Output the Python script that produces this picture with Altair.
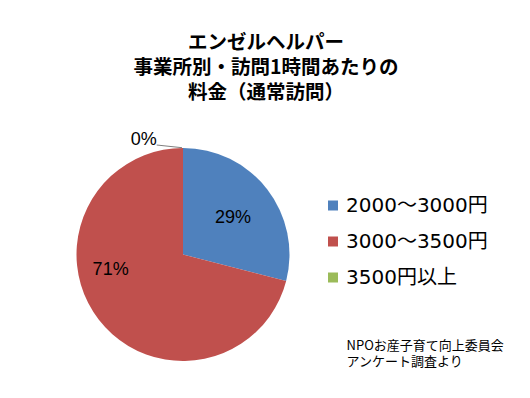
import altair as alt
import pandas as pd

categories = ["2000～3000円", "3000～3500円", "3500円以上"]
shares = [29, 71, 0]
colors = ["#4F81BD", "#C0504D", "#9BBB59"]
title_lines = ["エンゼルヘルパー", "事業所別・訪問1時間あたりの", "料金（通常訪問）"]
note_lines = ["NPOお産子育て向上委員会", "アンケート調査より"]

df = pd.DataFrame({"cat": categories, "value": shares, "idx": list(range(len(categories)))})

CX, CY, R = 175, 246.5, 106.5
JP = "Noto Sans CJK JP"

base = alt.Chart(df).transform_calculate(label="datum.value + '%'")

pie = base.mark_arc(outerRadius=R).encode(
    theta=alt.Theta("value:Q", stack=True),
    order=alt.Order("idx:Q"),
    color=alt.Color(
        "cat:N",
        scale=alt.Scale(domain=categories, range=colors),
        sort=categories,
        legend=alt.Legend(
            title=None, orient="none", legendX=315, legendY=187.5,
            symbolType="square", symbolSize=100, symbolStrokeWidth=0,
            labelFont="DejaVu Sans, Noto Sans CJK JP", labelFontSize=20,
            labelColor="#000000", labelOffset=3, rowPadding=16, padding=0,
            symbolOffset=0,
        ),
    ),
    x=alt.value(CX),
    y=alt.value(CY),
)


def label_layer(cat, radius, offset):
    return base.mark_text(
        radius=radius, thetaOffset=offset, font="Liberation Sans", fontSize=18,
        color="#000000", align="center", baseline="middle",
    ).encode(
        theta=alt.Theta("value:Q", stack=True),
        order=alt.Order("idx:Q"),
        detail="cat:N",
        text=alt.condition(f"datum.cat == '{cat}'", alt.Text("label:N"), alt.value("")),
        x=alt.value(CX),
        y=alt.value(CY),
    )


lab_blue = label_layer(categories[0], 62, 0.03)
lab_red = label_layer(categories[1], 74, 0.449)
lab_green = label_layer(categories[2], 121, -0.331)

leader = alt.Chart(df).mark_rule(color="#7f7f7f", strokeWidth=1).encode(
    x=alt.value(148.7), y=alt.value(137), x2=alt.value(174), y2=alt.value(139.7)
).transform_filter("datum.idx == 0")

title = alt.Chart(df).mark_text(
    font=JP, fontSize=19.5, fontWeight="bold", lineHeight=25,
    align="center", baseline="top", color="#000000",
).encode(x=alt.value(258), y=alt.value(25.5), text=alt.value(title_lines)).transform_filter("datum.idx == 0")

note = alt.Chart(df).mark_text(
    font=JP, fontSize=13, lineHeight=16,
    align="left", baseline="top", color="#000000",
).encode(x=alt.value(338.5), y=alt.value(331.5), text=alt.value(note_lines)).transform_filter("datum.idx == 0")

chart = alt.layer(pie, lab_blue, lab_red, lab_green, leader, title, note).properties(
    width=514, height=382, autosize=alt.AutoSizeParams(type="none"), padding=0,
).configure(background="#ffffff").configure_view(stroke=None)

chart.save("out.html", embed_options={"renderer": "svg", "actions": False})
